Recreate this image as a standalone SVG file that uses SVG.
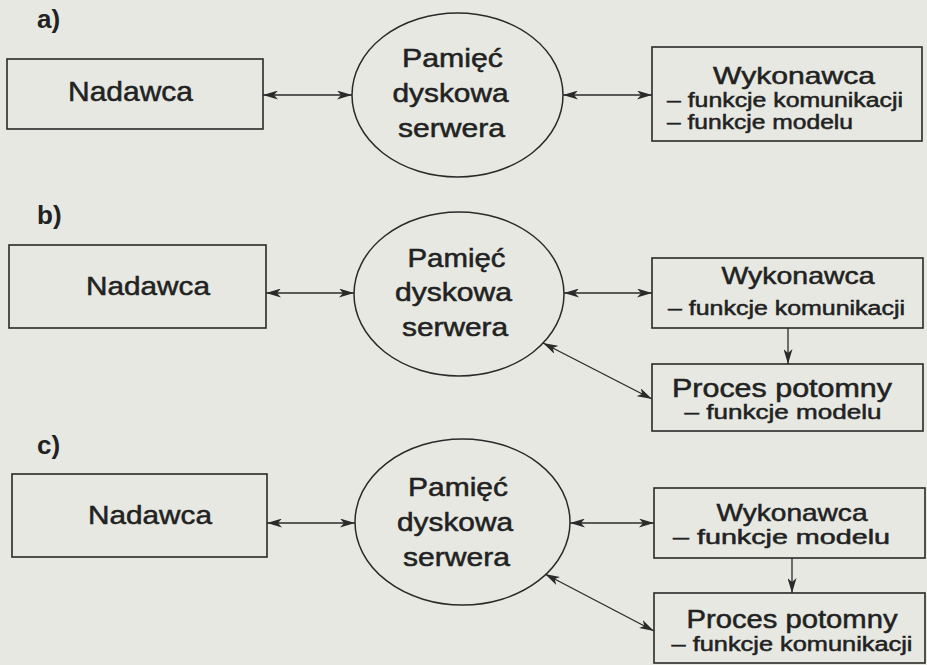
<svg xmlns="http://www.w3.org/2000/svg" width="927" height="665" viewBox="0 0 927 665">
<defs>
<marker id="ah" viewBox="0 0 15 9" refX="15" refY="4.5" markerWidth="15" markerHeight="9" markerUnits="userSpaceOnUse" orient="auto-start-reverse">
<path d="M0,0 L15,4.5 L0,9 L4,4.5 z" fill="#2a2a2a"/>
</marker>
</defs>
<style>
.bg{fill:#e6e8e1}
.box{fill:none;stroke:#2a2a2a;stroke-width:1.6}
.ell{fill:none;stroke:#2a2a2a;stroke-width:1.5}
.t{font-family:"Liberation Sans",Arial,Helvetica,sans-serif;fill:#222;stroke:#222;stroke-width:0.5;text-anchor:middle}
.s{text-anchor:start}
.lbl{font-family:"Liberation Sans",Arial,sans-serif;font-weight:bold;font-size:26px;fill:#222}
.c{fill:none;stroke:#2a2a2a;stroke-width:1.3}
</style>
<rect class="bg" x="0" y="0" width="927" height="665"/>

<text class="lbl" x="37" y="28">a)</text>
<text class="lbl" x="37" y="224">b)</text>
<text class="lbl" x="37" y="454">c)</text>

<g id="a-nadawca">
<rect class="box" x="7" y="59" width="256" height="70"/>
<text class="t" x="130.5" y="101" font-size="28" textLength="125" lengthAdjust="spacingAndGlyphs">Nadawca</text>
</g>
<g id="a-pamiec">
<ellipse class="ell" cx="457.5" cy="95" rx="105.5" ry="82"/>
<text class="t" x="452.5" y="67" font-size="25" textLength="101" lengthAdjust="spacingAndGlyphs">Pamięć</text>
<text class="t" x="450.5" y="102" font-size="25" textLength="116" lengthAdjust="spacingAndGlyphs">dyskowa</text>
<text class="t" x="451.5" y="137" font-size="25" textLength="107" lengthAdjust="spacingAndGlyphs">serwera</text>
</g>
<g id="a-wykonawca">
<rect class="box" x="652" y="47" width="270" height="94"/>
<text class="t" x="794" y="84" font-size="24" textLength="162" lengthAdjust="spacingAndGlyphs">Wykonawca</text>
<text class="t s" x="667" y="107" font-size="20" textLength="236" lengthAdjust="spacingAndGlyphs">– funkcje komunikacji</text>
<text class="t s" x="667" y="129" font-size="20" textLength="186" lengthAdjust="spacingAndGlyphs">– funkcje modelu</text>
</g>

<g id="b-nadawca">
<rect class="box" x="9" y="245" width="257" height="83"/>
<text class="t" x="148" y="295" font-size="26" textLength="124" lengthAdjust="spacingAndGlyphs">Nadawca</text>
</g>
<g id="b-pamiec">
<ellipse class="ell" cx="459" cy="294" rx="105" ry="82"/>
<text class="t" x="456.5" y="267" font-size="25" textLength="98" lengthAdjust="spacingAndGlyphs">Pamięć</text>
<text class="t" x="453.5" y="301" font-size="25" textLength="117" lengthAdjust="spacingAndGlyphs">dyskowa</text>
<text class="t" x="455" y="336" font-size="25" textLength="106" lengthAdjust="spacingAndGlyphs">serwera</text>
</g>
<g id="b-wykonawca">
<rect class="box" x="652" y="258" width="271" height="70"/>
<text class="t" x="798" y="284" font-size="24" textLength="153" lengthAdjust="spacingAndGlyphs">Wykonawca</text>
<text class="t s" x="668" y="315" font-size="20" textLength="237" lengthAdjust="spacingAndGlyphs">– funkcje komunikacji</text>
</g>
<g id="b-proces">
<rect class="box" x="652" y="364" width="271" height="67"/>
<text class="t" x="782" y="397" font-size="25" textLength="220" lengthAdjust="spacingAndGlyphs">Proces potomny</text>
<text class="t" x="783" y="419" font-size="20" textLength="197" lengthAdjust="spacingAndGlyphs">– funkcje modelu</text>
</g>

<g id="c-nadawca">
<rect class="box" x="12" y="474" width="255" height="83"/>
<text class="t" x="150" y="524" font-size="26" textLength="124" lengthAdjust="spacingAndGlyphs">Nadawca</text>
</g>
<g id="c-pamiec">
<ellipse class="ell" cx="462.5" cy="522" rx="107.5" ry="83"/>
<text class="t" x="458" y="496" font-size="25" textLength="100" lengthAdjust="spacingAndGlyphs">Pamięć</text>
<text class="t" x="455" y="531" font-size="25" textLength="116" lengthAdjust="spacingAndGlyphs">dyskowa</text>
<text class="t" x="456.5" y="566" font-size="25" textLength="107" lengthAdjust="spacingAndGlyphs">serwera</text>
</g>
<g id="c-wykonawca">
<rect class="box" x="654" y="488" width="271" height="70"/>
<text class="t" x="792" y="521" font-size="24" textLength="151" lengthAdjust="spacingAndGlyphs">Wykonawca</text>
<text class="t" x="781.5" y="544" font-size="20" textLength="217" lengthAdjust="spacingAndGlyphs">– funkcje modelu</text>
</g>
<g id="c-proces">
<rect class="box" x="654" y="593" width="271" height="70"/>
<text class="t" x="792" y="628" font-size="25" textLength="211" lengthAdjust="spacingAndGlyphs">Proces potomny</text>
<text class="t" x="792" y="651" font-size="20" textLength="241" lengthAdjust="spacingAndGlyphs">– funkcje komunikacji</text>
</g>

<g id="connectors">
<line class="c" x1="263" y1="95" x2="352" y2="95" marker-start="url(#ah)" marker-end="url(#ah)"/>
<line class="c" x1="563" y1="95" x2="652" y2="95" marker-start="url(#ah)" marker-end="url(#ah)"/>
<line class="c" x1="266" y1="293" x2="354" y2="293" marker-start="url(#ah)" marker-end="url(#ah)"/>
<line class="c" x1="564" y1="293" x2="652" y2="293" marker-start="url(#ah)" marker-end="url(#ah)"/>
<line class="c" x1="788" y1="328" x2="788" y2="364" marker-end="url(#ah)"/>
<line class="c" x1="543" y1="343" x2="652" y2="399" marker-start="url(#ah)" marker-end="url(#ah)"/>
<line class="c" x1="267" y1="523" x2="355" y2="523" marker-start="url(#ah)" marker-end="url(#ah)"/>
<line class="c" x1="570" y1="523" x2="654" y2="523" marker-start="url(#ah)" marker-end="url(#ah)"/>
<line class="c" x1="792" y1="558" x2="792" y2="593" marker-end="url(#ah)"/>
<line class="c" x1="545" y1="574" x2="654" y2="631" marker-start="url(#ah)" marker-end="url(#ah)"/>
</g>
</svg>
